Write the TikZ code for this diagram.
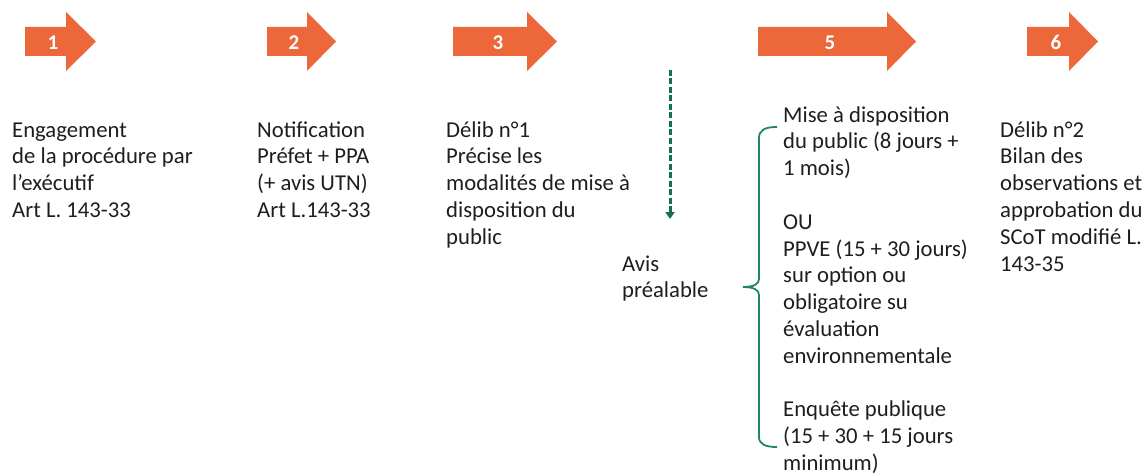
\documentclass[tikz,border=0pt]{standalone}
\usepackage{fontspec}
\setmainfont{Carlito}
\usetikzlibrary{arrows.meta}

\definecolor{stepOrange}{HTML}{EC673A}
\definecolor{avisGreen}{HTML}{10704F}
\definecolor{braceGreen}{HTML}{1F8663}
\definecolor{textDark}{HTML}{1E1E1E}

\begin{document}
\begin{tikzpicture}[x=1pt,y=-1pt,
    stepnum/.style={text=white,inner sep=0pt,font=\fontsize{21}{24}\selectfont\bfseries},
    txt/.style={anchor=base west,align=left,inner sep=0pt,text=textDark,font=\fontsize{22.7}{26.8}\selectfont}]
  \useasboundingbox (0,0) rectangle (1145,476);

  % step arrows
  \fill[stepOrange] (25,27) -- (66,27) -- (66,12) -- (96,41.5) -- (66,71) -- (66,56) -- (25,56) -- cycle;
  \fill[stepOrange] (267,27) -- (307,27) -- (307,12) -- (336,41.5) -- (307,71) -- (307,56) -- (267,56) -- cycle;
  \fill[stepOrange] (453,27) -- (527,27) -- (527,12) -- (557,41.5) -- (527,71) -- (527,56) -- (453,56) -- cycle;
  \fill[stepOrange] (758,27) -- (887,27) -- (887,12) -- (916,41.5) -- (887,71) -- (887,56) -- (758,56) -- cycle;
  \fill[stepOrange] (1027,27) -- (1069,27) -- (1069,12) -- (1098,41.5) -- (1069,71) -- (1069,56) -- (1027,56) -- cycle;

  \node[stepnum] (N1) at (53,42.5) {1};
  \node[stepnum] (N2) at (294,42.5) {2};
  \node[stepnum] (N3) at (498,42.5) {3};
  \node[stepnum] (N5) at (830,42.5) {5};
  \node[stepnum] (N6) at (1056,42.5) {6};

  % texts under the steps (placed at the baseline of their last line)
  \node[txt] (T1) at (12,217.4) {Engagement\\de la procédure par\\l’exécutif\\Art L. 143-33};
  \node[txt] (T2) at (257,217.4) {Notification\\Préfet + PPA\\(+ avis UTN)\\Art L.143-33};
  \node[txt] (T3) at (446,244.2) {Délib n°1\\Précise les\\modalités de mise à\\disposition du\\public};
  \node[txt] (T5) at (783,470.5) {Mise à disposition\\du public (8 jours +\\1 mois)\\[26.8pt]OU\\PPVE (15 + 30 jours)\\sur option ou\\obligatoire su\\évaluation\\environnementale\\[26.8pt]Enquête publique\\(15 + 30 + 15 jours\\minimum)};
  \node[txt] (T6) at (1000,271) {Délib n°2\\Bilan des\\observations et\\approbation du\\SCoT modifié L.\\143-35};
  \node[txt] (Avis) at (622,297.8) {Avis\\préalable};

  % avis prealable
  \coordinate (avisTop) at (670,70);
  \coordinate (avisEnd) at (670,219);
  \draw[avisGreen,line width=3pt,dash pattern=on 6pt off 2.5pt,-{Triangle[width=9pt,length=7pt]}] (avisTop) -- (avisEnd);

  % accolade
  \draw[braceGreen,line width=1.8pt] (777,127) .. controls (765,127) and (759,130) .. (759,138) -- (759,279)
    .. controls (759,284) and (754,287) .. (743,287)
    .. controls (754,287) and (759,290) .. (759,295) -- (759,437)
    .. controls (759,444) and (765,447) .. (777,447);
\end{tikzpicture}
\end{document}
